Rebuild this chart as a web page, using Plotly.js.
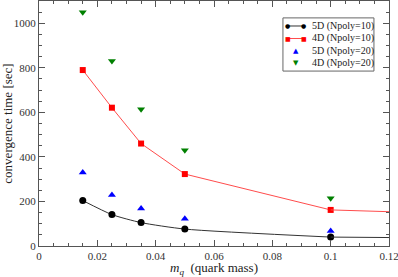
<!DOCTYPE html>
<html><head><meta charset="utf-8">
<script src="https://cdn.plot.ly/plotly-3.0.1.min.js"></script>
<style>html,body{margin:0;padding:0;background:#fff}#chart{width:398px;height:277px}</style>
</head><body><div id="chart"></div>
<script>
const mq = [0.015, 0.025, 0.035, 0.05, 0.1];
const t5d10 = [204, 141, 105, 76, 40];
const t4d10 = [790, 621, 460, 323, 162];
const t5d20 = [330, 229, 168, 122, 67];
const t4d20 = [1050, 831, 614, 430, 214];
const extX = [0.1, 0.12];
const ext5d10 = [40, 38];
const ext4d10 = [162, 154];
const xTicks = [0, 0.02, 0.04, 0.06, 0.08, 0.1, 0.12];
const xTickText = ['0', '0.02', '0.04', '0.06', '0.08', '0.1', '0.12'];
const names = ['5D (Npoly=10)', '4D (Npoly=10)', '5D (Npoly=20)', '4D (Npoly=20)'];
const colors = ['#000000', '#ff0000', '#0000ff', '#008000'];
const lineColors = ['#333333', '#ff4c4c'];
const glyphs = ['●', '■', '▲', '▼'];

const traces = [
  {x: mq, y: t5d10, name: names[0], mode: 'lines+markers', line: {color: lineColors[0], width: 1, shape: 'spline', smoothing: 0.6},
   marker: {symbol: 'circle', size: 7, color: colors[0]}},
  {x: mq, y: t4d10, name: names[1], mode: 'lines+markers', line: {color: lineColors[1], width: 1},
   marker: {symbol: 'square', size: 6, color: colors[1]}},
  {x: mq, y: t5d20, name: names[2], mode: 'markers', marker: {symbol: 'triangle-up', size: 7, color: colors[2]}},
  {x: mq, y: t4d20, name: names[3], mode: 'markers', marker: {symbol: 'triangle-down', size: 7, color: colors[3]}},
  {x: extX, y: ext5d10, mode: 'lines', showlegend: false, line: {color: lineColors[0], width: 1}, hoverinfo: 'skip'},
  {x: extX, y: ext4d10, mode: 'lines', showlegend: false, line: {color: lineColors[1], width: 1}, hoverinfo: 'skip'}
];

const serif = 'Liberation Serif';
const axisCommon = {
  showgrid: false, zeroline: false, showline: true, linecolor: '#555', linewidth: 1, mirror: 'ticks',
  ticks: 'inside', ticklen: 6, tickcolor: '#555', tickwidth: 1, ticklabeloverflow: 'allow',
  tickfont: {family: serif, size: 11, color: '#333'}
};

// custom legend (layout box, swatches and labels in paper coordinates)
const legX0 = 0.697, legX1 = 0.957, legYTop = 0.931, legYBot = 0.714;
const rowY = [0.898, 0.847, 0.796, 0.745];
const glyphSize = [6, 6, 7, 7];
const shapes = [{type: 'rect', xref: 'paper', yref: 'paper', x0: legX0, x1: legX1, y0: legYBot, y1: legYTop,
  line: {color: '#666', width: 1}, fillcolor: '#fff', layer: 'above'}];
const annotations = [];
names.forEach((n, i) => {
  if (i < 2) {
    shapes.push({type: 'line', xref: 'paper', yref: 'paper', x0: 0.711, x1: 0.757, y0: rowY[i], y1: rowY[i],
      line: {color: lineColors[i], width: 1}, layer: 'above'});
    [0.711, 0.757].forEach(gx => annotations.push({xref: 'paper', yref: 'paper', x: gx, y: rowY[i], text: glyphs[i],
      showarrow: false, xanchor: 'center', yanchor: 'middle', font: {family: 'DejaVu Sans', size: glyphSize[i], color: colors[i]}}));
  } else {
    annotations.push({xref: 'paper', yref: 'paper', x: 0.734, y: rowY[i], text: glyphs[i],
      showarrow: false, xanchor: 'center', yanchor: 'middle', font: {family: 'DejaVu Sans', size: glyphSize[i], color: colors[i]}});
  }
  annotations.push({xref: 'paper', yref: 'paper', x: 0.774, y: rowY[i], text: n, showarrow: false,
    xanchor: 'left', yanchor: 'middle', font: {family: serif, size: 10, color: '#222'}});
});

const layout = {
  width: 398, height: 277,
  margin: {l: 39, r: 9, t: 1, b: 31},
  paper_bgcolor: '#fff', plot_bgcolor: '#fff',
  font: {family: serif, color: '#222'},
  showlegend: false,
  shapes: shapes, annotations: annotations,
  xaxis: Object.assign({}, axisCommon, {range: [0, 0.1200001], tickmode: 'array', tickvals: xTicks, ticktext: xTickText,
    minor: {dtick: 0.005, tick0: 0, ticks: 'inside', ticklen: 3, tickcolor: '#555'},
    title: {text: '<i>m</i><sub><i>q</i></sub>  (quark mass)', font: {family: serif, size: 13, color: '#222'}, standoff: 3}}),
  yaxis: Object.assign({}, axisCommon, {range: [0, 1100], dtick: 200,
    minor: {dtick: 50, ticks: 'inside', ticklen: 3, tickcolor: '#555'},
    title: {text: 'convergence time [sec]', font: {family: serif, size: 13, color: '#222'}, standoff: 4}})
};

Plotly.newPlot('chart', traces, layout, {displayModeBar: false, staticPlot: true});
</script>
</body></html>
